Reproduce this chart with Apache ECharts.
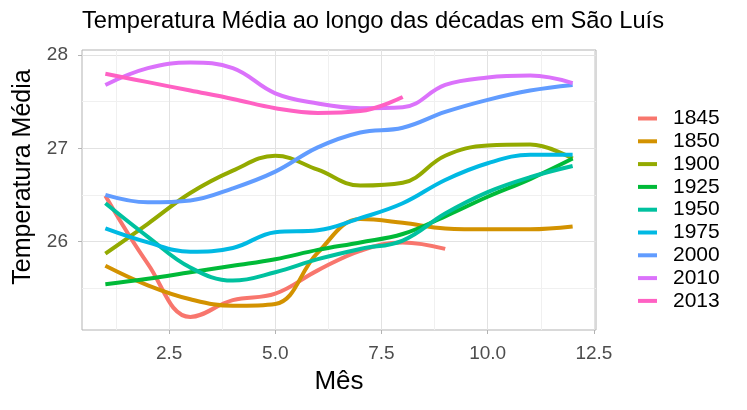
<!DOCTYPE html>
<html>
<head>
<meta charset="utf-8">
<script src="https://cdn.jsdelivr.net/npm/echarts@6/dist/echarts.min.js"></script>
<style>
  html, body { margin: 0; padding: 0; background: #fff; }
  #chart { width: 747px; height: 410px; }
</style>
</head>
<body>
<div id="chart"></div>
<script>
// meses 1..12
var months = [1, 2, 3, 4, 5, 6, 7, 8, 9, 10, 11, 12];

// temperatura média por década
var t1845 = [26.49, 25.76, 25.19, 25.37, 25.44, 25.69, 25.90, 25.99, 25.92];
var t1850 = [25.74, 25.53, 25.38, 25.31, 25.33, 25.88, 26.24, 26.20, 26.14, 26.13, 26.13, 26.16];
var t1900 = [25.87, 26.19, 26.52, 26.76, 26.92, 26.77, 26.60, 26.63, 26.92, 27.03, 27.04, 26.89];
var t1925 = [25.54, 25.60, 25.67, 25.74, 25.81, 25.91, 25.99, 26.08, 26.27, 26.48, 26.67, 26.89];
var t1950 = [26.41, 26.05, 25.72, 25.58, 25.67, 25.81, 25.92, 26.01, 26.30, 26.53, 26.69, 26.81];
var t1975 = [26.14, 25.99, 25.89, 25.93, 26.10, 26.12, 26.25, 26.41, 26.66, 26.84, 26.93, 26.93];
var t2000 = [26.50, 26.42, 26.44, 26.57, 26.75, 27.01, 27.17, 27.22, 27.39, 27.52, 27.62, 27.68];
var t2010 = [27.68, 27.86, 27.92, 27.86, 27.59, 27.48, 27.43, 27.44, 27.68, 27.76, 27.78, 27.70];
var t2013 = [27.80, 27.71, 27.62, 27.53, 27.43, 27.38, 27.40, 27.55];

var decadas = ["1845", "1850", "1900", "1925", "1950", "1975", "2000", "2010", "2013"];
var valores = [t1845, t1850, t1900, t1925, t1950, t1975, t2000, t2010, t2013];

var xTicks = [2.5, 5, 7.5, 10, 12.5];
var xMinor = [1.25, 3.75, 6.25, 8.75, 11.25];
var yTicks = [26, 27, 28];
var yMinor = [25.5, 26.5, 27.5];

var cores = ["#F8766D", "#D39200", "#93AA00", "#00BA38", "#00C19F", "#00B9E3", "#619CFF", "#DB72FB", "#FF61C3"];

var fonte = "Liberation Sans, Arial, sans-serif";

var series = decadas.map(function (d, i) {
  return {
    name: d,
    type: "line",
    smooth: 0.4,
    showSymbol: false,
    xAxisIndex: 0,
    yAxisIndex: 0,
    lineStyle: { width: 4 },
    data: valores[i].map(function (v, j) { return [months[j], v]; })
  };
});

var myChart = echarts.init(document.getElementById("chart"));
myChart.setOption({
  animation: false,
  color: cores,
  title: {
    text: "Temperatura Média ao longo das décadas em São Luís",
    left: 77,
    top: 4,
    textStyle: { fontFamily: fonte, fontSize: 23.7, fontWeight: "normal", color: "#000" }
  },
  legend: {
    orient: "vertical",
    left: 633,
    top: 103,
    icon: "rect",
    itemWidth: 19,
    itemHeight: 4,
    itemGap: 1.8,
    data: decadas,
    textStyle: { fontFamily: fonte, fontSize: 21, lineHeight: 21, color: "#000", padding: [0, 0, 0, 11] }
  },
  grid: {
    left: 82,
    right: 151,
    top: 50,
    bottom: 80,
    show: true,
    borderColor: "#b3b3b3",
    borderWidth: 1
  },
  xAxis: [
    {
      type: "value",
      min: 0.45,
      max: 12.55,
      name: "Mês",
      nameLocation: "middle",
      nameGap: 39,
      nameTextStyle: { fontFamily: fonte, fontSize: 26, color: "#000" },
      axisLine: { show: false },
      axisTick: { show: true, length: 4, customValues: xTicks, lineStyle: { color: "#b3b3b3" } },
      axisLabel: {
        customValues: xTicks,
        margin: 14,
        fontFamily: fonte,
        fontSize: 19,
        color: "#4d4d4d",
        formatter: function (v) { return v.toFixed(1); }
      },
      splitLine: { show: true, lineStyle: { color: "#e2e2e2", width: 1 } }
    },
    {
      // grade menor
      type: "value",
      min: 0.45,
      max: 12.55,
      position: "bottom",
      axisLine: { show: false },
      axisTick: { show: false, customValues: xMinor },
      axisLabel: { show: false, customValues: xMinor },
      splitLine: { show: true, lineStyle: { color: "#f0f0f0", width: 1 } }
    }
  ],
  yAxis: [
    {
      type: "value",
      min: 25.05,
      max: 28.055,
      name: "Temperatura Média",
      nameLocation: "middle",
      nameRotate: 90,
      nameGap: 45,
      nameTextStyle: { fontFamily: fonte, fontSize: 25, color: "#000", padding: [0, 0, 0, 26] },
      axisLine: { show: false },
      axisTick: { show: true, length: 4, customValues: yTicks, lineStyle: { color: "#b3b3b3" } },
      axisLabel: {
        customValues: yTicks,
        margin: 14,
        fontFamily: fonte,
        fontSize: 19,
        color: "#4d4d4d"
      },
      splitLine: { show: true, lineStyle: { color: "#e2e2e2", width: 1 } }
    },
    {
      type: "value",
      min: 25.05,
      max: 28.055,
      position: "left",
      axisLine: { show: false },
      axisTick: { show: false, customValues: yMinor },
      axisLabel: { show: false, customValues: yMinor },
      splitLine: { show: true, lineStyle: { color: "#f0f0f0", width: 1 } }
    }
  ],
  series: series
});
</script>
</body>
</html>
